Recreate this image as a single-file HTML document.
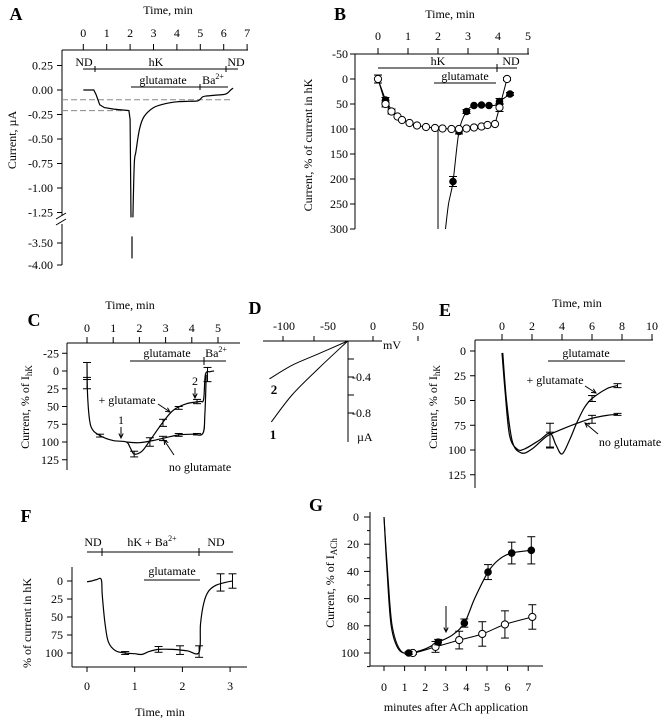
<!DOCTYPE html>
<html><head><meta charset="utf-8"><style>
html,body{margin:0;padding:0;background:#fff}
svg{display:block}
text{font-family:"Liberation Serif",serif;fill:#000}
</style></head><body>
<svg id="fig" width="665" height="720" viewBox="0 0 665 720"></svg>
<script>
// ---------- DATA ----------
// Panel A
const aTicksX=[0,1,2,3,4,5,6,7];
const aTicksY=[0.25,0,-0.25,-0.5,-0.75,-1,-1.25,-3.5,-4];
const aTickLbl=["0.25","0.00","-0.25","-0.50","-0.75","-1.00","-1.25","-3.50","-4.00"];
const aPre=[[0,0],[0.45,0],[0.55,-0.05],[0.7,-0.15],[0.9,-0.18],[1.3,-0.195],[1.95,-0.21],[2.0,-0.3],[2.04,-1.3]];
const aSpike=[[2.08,-3.35],[2.08,-3.85]];
const aPost=[[2.12,-1.3],[2.18,-0.75],[2.25,-0.63],[2.4,-0.4],[2.6,-0.27],[3,-0.18],[3.5,-0.14],[4,-0.12],[4.5,-0.115],[4.9,-0.11],[5.1,-0.07],[5.3,-0.06],[5.8,-0.05],[6.1,-0.04],[6.3,0.0],[6.4,0.02]];
const aDash=[-0.1,-0.21];
// Panel B
const bTicksX=[0,1,2,3,4,5];
const bTicksY=[-50,0,50,100,150,200,250,300];
const bOpenT=[0,0.25,0.45,0.65,0.8,1.05,1.3,1.6,1.9,2.15,2.45,2.7,2.95,3.2,3.45,3.65,3.9,4.05,4.3];
const bOpenV=[0,50,65,75,82,88,93,96,98,99,100,100,99,97,95,92,90,57,0];
const bOpenE=[8,6,5,0,0,0,0,0,0,0,0,0,0,0,0,0,0,8,3];
const bFillT=[0.25,2.5,2.7,2.95,3.2,3.45,3.7,4.05,4.4];
const bFillV=[42,205,105,65,53,52,53,45,30];
const bFillE=[5,10,5,4,0,0,0,6,3];
const bFillCurve=[[2.25,300],[2.35,250],[2.5,205],[2.7,105],[2.95,65],[3.2,53],[3.45,52],[3.7,53],[3.95,52],[4.05,45],[4.4,30]];
// Panel C
const cTicksX=[0,1,2,3,4,5];
const cTicksY=[-25,0,25,50,75,100,125];
const cGlu=[[0,-10],[0.03,40],[0.15,78],[0.5,91],[1,98],[1.5,100],[1.65,108],[1.8,117],[2.1,113],[2.4,98],[2.9,72],[3.3,55],[3.8,46],[4.3,43],[4.45,40],[4.52,5],[4.7,1],[4.85,0]];
const cNoGlu=[[1.5,100],[2,101],[2.5,98],[3,94],[3.5,90],[4,89],[4.42,88],[4.5,60],[4.55,5]];
const cErrT=[0,0,0.5,1.8,2.4,2.9,3.5,4.2,4.6,2.9,3.5,4.2];
const cErrV=[0,17,91,117,100,73,52,43,5,95,90,89];
const cErrE=[12,8,2,4,6,5,2,3,10,3,2,1];
// Panel D
const dTicksX=[-100,-50,0,50];
const dTicksY=[-0.2,-0.4,-0.6,-0.8];
const dCurve1=[[-28,0],[-60,-0.3],[-90,-0.6],[-113,-0.9]];
const dCurve2=[[-28,0],[-60,-0.14],[-90,-0.27],[-115,-0.42]];
// Panel E
const eTicksX=[0,2,4,6,8,10];
const eTicksY=[0,25,50,75,100,125];
const eGlu=[[0,2],[0.2,40],[0.5,85],[1,99],[1.5,99],[2.5,90],[3.2,83],[3.6,95],[4,104],[4.5,90],[5,72],[5.5,57],[6,48],[7,38],[7.7,35]];
const eNoGlu=[[0.05,2],[0.3,50],[0.7,92],[1.3,103],[2,99],[3,86],[4,79],[5,73],[6,68],[7,65],[7.7,64]];
const eErrT=[3.2,6,7.7,3.2,6,7.7];
const eErrV=[90,48,35,85,69,64];
const eErrE=[8,3,2,12,4,1];
// Panel F
const fTicksX=[0,1,2,3];
const fTicksY=[0,25,50,75,100];
const fTrace=[[0,1],[0.1,0],[0.2,-2],[0.3,-2],[0.32,20],[0.38,60],[0.45,85],[0.6,97],[0.8,100],[1.0,101],[1.15,102],[1.3,98],[1.5,95],[1.8,95],[2.1,97],[2.35,99],[2.38,60],[2.45,30],[2.55,14],[2.7,6],[2.9,2],[3.05,0]];
const fErrT=[0.8,1.5,1.95,2.35,2.8,3.05];
const fErrV=[100,95,96,98,2,0];
const fErrE=[2,4,6,8,12,10];
// Panel G
const gTicksX=[0,1,2,3,4,5,6,7];
const gTicksY=[0,20,40,60,80,100];
const gFillT=[1.2,2.63,3.9,5.05,6.2,7.15];
const gFillV=[100,92,78,40.5,26.5,24.5];
const gFillE=[1,2,3,5.5,8,10];
const gOpenT=[1.4,2.5,3.65,4.77,5.87,7.2];
const gOpenV=[100,95.5,90.5,86,79,73.5];
const gOpenE=[1,4,6.5,9,10,9];
const gFillCurve=[[0,0],[0.15,40],[0.35,80],[0.7,97],[1.2,100],[2,97],[2.63,92],[3.3,87],[3.9,78],[4.4,60],[5.05,40.5],[5.6,31],[6.2,26.5],[7.15,24.5]];
const gOpenCurve=[[0,0],[0.2,45],[0.4,80],[0.8,98],[1.4,100],[2.5,95.5],[3.65,90.5],[4.77,86],[5.87,79],[7.2,73.5]];

// ---------- SCALES ----------
const ax=t=>83.3+23.4*t, ay=v=>v>=-1.4?90-98*v:243-44*(v+3.5);
const bx=t=>378+30*t, by=v=>79+0.5*v;
const cx=t=>87+26.2*t, cy=v=>371+0.71*v;
const dx=m=>373+0.9*m, dy=u=>341-90*u;
const ex=t=>502+15*t, ey=v=>351+0.99*v;
const fx=t=>87+47.7*t, fy=v=>581+0.72*v;
const gx=t=>384+20.6*t, gy=v=>517+1.36*v;

// ---------- HELPERS ----------
const svg=document.getElementById('fig');
const NS='http://www.w3.org/2000/svg';
function mk(tag,attrs,name){
  const el=document.createElementNS(NS,tag);
  for(const k in attrs) el.setAttribute(k,attrs[k]);
  
  
  svg.appendChild(el);
  return el;
}
function line(x1,y1,x2,y2,name,w){return mk('line',{x1,y1,x2,y2,stroke:'#000','stroke-width':w||1},name);}
function txt(x,y,s,name,opt){
  opt=opt||{};
  const el=mk('text',{x,y,'font-size':opt.size||12,'text-anchor':opt.anchor||'middle','font-weight':opt.bold?'bold':'normal'},name);
  if(opt.rot) el.setAttribute('transform','rotate(-90 '+x+' '+y+')');
  el.innerHTML=s;
  return el;
}
function smooth(pts){
  let d='M'+pts[0][0]+','+pts[0][1];
  for(let i=0;i<pts.length-1;i++){
    const p0=pts[i-1]||pts[i],p1=pts[i],p2=pts[i+1],p3=pts[i+2]||p2;
    const c1=[p1[0]+(p2[0]-p0[0])/6,p1[1]+(p2[1]-p0[1])/6];
    const c2=[p2[0]-(p3[0]-p1[0])/6,p2[1]-(p3[1]-p1[1])/6];
    d+=' C'+c1[0].toFixed(1)+','+c1[1].toFixed(1)+' '+c2[0].toFixed(1)+','+c2[1].toFixed(1)+' '+p2[0].toFixed(1)+','+p2[1].toFixed(1);
  }
  return d;
}
function curve(data,X,Y,name,w){return mk('path',{d:smooth(data.map(p=>[X(p[0]),Y(p[1])])),fill:'none',stroke:'#000','stroke-width':w||1.2},name);}
function poly(data,X,Y,name,w){return mk('polyline',{points:data.map(p=>X(p[0]).toFixed(1)+','+Y(p[1]).toFixed(1)).join(' '),fill:'none',stroke:'#000','stroke-width':w||1.2},name);}
function err(x,y1,y2,name){line(x,y1,x,y2,name);line(x-4,y1,x+4,y1,name+'-cap');line(x-4,y2,x+4,y2,name+'-cap');}
function arrow(x1,y1,x2,y2,name){
  line(x1,y1,x2,y2,name);
  const a=Math.atan2(y2-y1,x2-x1),l=5;
  mk('polyline',{points:(x2-l*Math.cos(a-0.45))+','+(y2-l*Math.sin(a-0.45))+' '+x2+','+y2+' '+(x2-l*Math.cos(a+0.45))+','+(y2-l*Math.sin(a+0.45)),fill:'none',stroke:'#000','stroke-width':1},name+'-head');
}
function circ(x,y,filled,name){mk('circle',{cx:x,cy:y,r:filled?3.3:3.6,fill:filled?'#000':'#fff',stroke:'#000','stroke-width':1},name);}

// ---------- PANEL A ----------
txt(16,20,'A','panel-a-label',{size:18,bold:1});
txt(168,14,'Time, min','a-x-axis-title');
line(62,50,248,50,'a-x-axis');
aTicksX.forEach(t=>{line(ax(t),44,ax(t),50,'a-x-tick');txt(ax(t),37,t,'a-x-tick-label');});
line(62,50,62,216,'a-y-axis-upper');line(62,224,62,265,'a-y-axis-lower');
line(56,219,66,213,'a-axis-break');line(56,225,66,219,'a-axis-break');
aTicksY.forEach((v,i)=>{line(57,ay(v),62,ay(v),'a-y-tick');txt(53,ay(v)+4,aTickLbl[i],'a-y-tick-label',{anchor:'end'});});
txt(16,140,'Current, µA','a-y-axis-title',{rot:1});
mk('line',{x1:62,y1:ay(aDash[0]),x2:232,y2:ay(aDash[0]),stroke:'#888','stroke-width':1,'stroke-dasharray':'6,3'},'a-dashed-reference');
mk('line',{x1:62,y1:ay(aDash[1]),x2:122,y2:ay(aDash[1]),stroke:'#888','stroke-width':1,'stroke-dasharray':'6,3'},'a-dashed-reference');
line(83,69,238,69,'a-solution-bar');line(95,66,95,72,'a-bar-tick');line(226,66,226,72,'a-bar-tick');
txt(84,66,'ND','a-nd-label');txt(156,66,'hK','a-hk-label');txt(236,66,'ND','a-nd-label-2');
line(131,87,228,87,'a-glutamate-bar');line(200,84,200,90,'a-bar-tick');
txt(163,84,'glutamate','a-glutamate-label');txt(213,84,'Ba<tspan font-size="8" dy="-5">2+</tspan>','a-ba-label');
poly(aPre,ax,ay,'a-trace');poly(aSpike,ax,ay,'a-trace-spike');curve(aPost,ax,ay,'a-trace-recovery');

// ---------- PANEL B ----------
txt(340,20,'B','panel-b-label',{size:18,bold:1});
txt(450,18,'Time, min','b-x-axis-title');
line(355,54,529,54,'b-x-axis');
bTicksX.forEach(t=>{line(bx(t),48,bx(t),54,'b-x-tick');txt(bx(t),40,t,'b-x-tick-label');});
line(355,54,355,229,'b-y-axis');
bTicksY.forEach(v=>{line(350,by(v),355,by(v),'b-y-tick');txt(348,by(v)+4,v,'b-y-tick-label',{anchor:'end'});});
txt(312,145,'Current, % of current in hK','b-y-axis-title',{rot:1});
line(378,68,517,68,'b-hk-bar');line(497,64,497,72,'b-bar-tick');
txt(438,65,'hK','b-hk-label');txt(511,65,'ND','b-nd-label');
line(434,83,496,83,'b-glutamate-bar');txt(465,80,'glutamate','b-glutamate-label');
line(bx(2.0),by(99),bx(2.0),by(300),'b-control-spike');
poly(bOpenT.map((t,i)=>[t,bOpenV[i]]),bx,by,'b-open-line',1);
curve(bFillCurve,bx,by,'b-filled-line',1);
poly([[0,0],[0.25,42],[0.45,62]],bx,by,'b-filled-start',1);
bFillT.forEach((t,i)=>{if(bFillE[i])err(bx(t),by(bFillV[i]-bFillE[i]),by(bFillV[i]+bFillE[i]),'b-filled-error');circ(bx(t),by(bFillV[i]),true,'b-filled-point');});
bOpenT.forEach((t,i)=>{if(bOpenE[i])err(bx(t),by(bOpenV[i]-bOpenE[i]),by(bOpenV[i]+bOpenE[i]),'b-open-error');circ(bx(t),by(bOpenV[i]),false,'b-open-point');});

// ---------- PANEL C ----------
txt(34,326,'C','panel-c-label',{size:18,bold:1});
txt(130,309,'Time, min','c-x-axis-title');
line(67,343,240,343,'c-x-axis');
cTicksX.forEach(t=>{line(cx(t),337,cx(t),343,'c-x-tick');txt(cx(t),332,t,'c-x-tick-label');});
line(67,343,67,470,'c-y-axis');
cTicksY.forEach(v=>{line(62,cy(v),67,cy(v),'c-y-tick');txt(59,cy(v)+4,v,'c-y-tick-label',{anchor:'end'});});
txt(29,407,'Current, % of I<tspan font-size="9" dy="3">hK</tspan>','c-y-axis-title',{rot:1});
line(130,361,226,361,'c-glutamate-bar');line(204,357,204,365,'c-bar-tick');
txt(167,357,'glutamate','c-glutamate-label');txt(216,357,'Ba<tspan font-size="8" dy="-5">2+</tspan>','c-ba-label');
curve(cGlu,cx,cy,'c-glutamate-trace');curve(cNoGlu,cx,cy,'c-no-glutamate-trace');
cErrT.forEach((t,i)=>err(cx(t),cy(cErrV[i]-cErrE[i]),cy(cErrV[i]+cErrE[i]),'c-error-bar'));
txt(121,424,'1','c-marker-1');arrow(121,427,121,438,'c-arrow-1');
txt(195,385,'2','c-marker-2');arrow(195,388,195,398,'c-arrow-2');
txt(127,404,'+ glutamate','c-glutamate-label-2');arrow(158,404,170,412,'c-arrow-glu');
txt(200,471,'no glutamate','c-no-glutamate-label');arrow(174,455,164,440,'c-arrow-noglu');

// ---------- PANEL D ----------
txt(255,314,'D','panel-d-label',{size:18,bold:1});
line(263,341,382,341,'d-x-axis');
dTicksX.forEach(m=>{line(dx(m)-(m<0?(m===-50?14:0):0),336,dx(m)-(m<0?(m===-50?14:0):0),341,'d-x-tick');txt(dx(m)-(m===-100?-1:0),330,m,'d-x-tick-label');});
line(348,341,348,442,'d-y-axis');
dTicksY.forEach(u=>{line(348,dy(u),354,dy(u),'d-y-tick');});
txt(352,381,'-0.4','d-y-tick-label',{anchor:'start'});txt(352,417,'-0.8','d-y-tick-label',{anchor:'start'});
txt(357,441,'µA','d-y-unit',{anchor:'start'});txt(383,349,'mV','d-x-unit',{anchor:'start'});
curve(dCurve1,dx,dy,'d-curve-1',1);curve(dCurve2,dx,dy,'d-curve-2',1);
txt(274,394,'2','d-label-2',{size:13,bold:1});txt(273,439,'1','d-label-1',{size:13,bold:1});

// ---------- PANEL E ----------
txt(445,316,'E','panel-e-label',{size:18,bold:1});
txt(577,307,'Time, min','e-x-axis-title');
line(475,340,653,340,'e-x-axis');
eTicksX.forEach(t=>{line(ex(t),334,ex(t),340,'e-x-tick');txt(ex(t),330,t,'e-x-tick-label');});
line(475,340,475,488,'e-y-axis');
eTicksY.forEach(v=>{line(470,ey(v),475,ey(v),'e-y-tick');txt(466,ey(v)+4,v,'e-y-tick-label',{anchor:'end'});});
txt(437,407,'Current, % of I<tspan font-size="9" dy="3">hK</tspan>','e-y-axis-title',{rot:1});
line(548,361,625,361,'e-glutamate-bar');txt(586,357,'glutamate','e-glutamate-label');
curve(eGlu,ex,ey,'e-glutamate-trace');curve(eNoGlu,ex,ey,'e-no-glutamate-trace');
eErrT.forEach((t,i)=>err(ex(t),ey(eErrV[i]-eErrE[i]),ey(eErrV[i]+eErrE[i]),'e-error-bar'));
txt(555,384,'+ glutamate','e-glutamate-label-2');arrow(585,386,596,393,'e-arrow-glu');
txt(630,446,'no glutamate','e-no-glutamate-label');arrow(598,434,585,423,'e-arrow-noglu');

// ---------- PANEL F ----------
txt(26,522,'F','panel-f-label',{size:18,bold:1});
line(87,552,233,552,'f-solution-bar');line(102,548,102,556,'f-bar-tick');line(199,548,199,556,'f-bar-tick');
txt(93,546,'ND','f-nd-label');txt(152,546,'hK + Ba<tspan font-size="8" dy="-5">2+</tspan>','f-hk-ba-label');txt(216,546,'ND','f-nd-label-2');
line(144,580,200,580,'f-glutamate-bar');txt(172,575,'glutamate','f-glutamate-label');
line(72,567,72,667,'f-y-axis');line(72,667,247,667,'f-x-axis');
fTicksX.forEach(t=>{line(fx(t),667,fx(t),672,'f-x-tick');txt(fx(t),690,t,'f-x-tick-label');});
fTicksY.forEach(v=>{line(67,fy(v),72,fy(v),'f-y-tick');txt(63,fy(v)+4,v,'f-y-tick-label',{anchor:'end'});});
txt(31,623,'% of current in hK','f-y-axis-title',{rot:1});
txt(160,716,'Time, min','f-x-axis-title');
curve(fTrace,fx,fy,'f-trace');
fErrT.forEach((t,i)=>err(fx(t),fy(fErrV[i]-fErrE[i]),fy(fErrV[i]+fErrE[i]),'f-error-bar'));

// ---------- PANEL G ----------
txt(316,511,'G','panel-g-label',{size:18,bold:1});
line(370,512,370,666,'g-y-axis');line(370,666,543,666,'g-x-axis');
gTicksX.forEach(t=>{line(gx(t),666,gx(t),671,'g-x-tick');txt(gx(t),691,t,'g-x-tick-label');});
for(let v=0;v<=110;v+=10){line(v%20===0?364:367,gy(v),370,gy(v),'g-y-tick');}
gTicksY.forEach(v=>txt(359,gy(v)+4,v,'g-y-tick-label',{anchor:'end'}));
txt(334,583,'Current, % of I<tspan font-size="9" dy="3">ACh</tspan>','g-y-axis-title',{rot:1});
txt(456,711,'minutes after ACh application','g-x-axis-title');
curve(gFillCurve,gx,gy,'g-filled-line');curve(gOpenCurve,gx,gy,'g-open-line',1);
arrow(446,606,446,632,'g-glutamate-arrow');
gOpenT.forEach((t,i)=>{err(gx(t),gy(gOpenV[i]-gOpenE[i]),gy(gOpenV[i]+gOpenE[i]),'g-open-error');circ(gx(t),gy(gOpenV[i]),false,'g-open-point');});
gFillT.forEach((t,i)=>{err(gx(t),gy(gFillV[i]-gFillE[i]),gy(gFillV[i]+gFillE[i]),'g-filled-error');circ(gx(t),gy(gFillV[i]),true,'g-filled-point');});
</script>
</body></html>
